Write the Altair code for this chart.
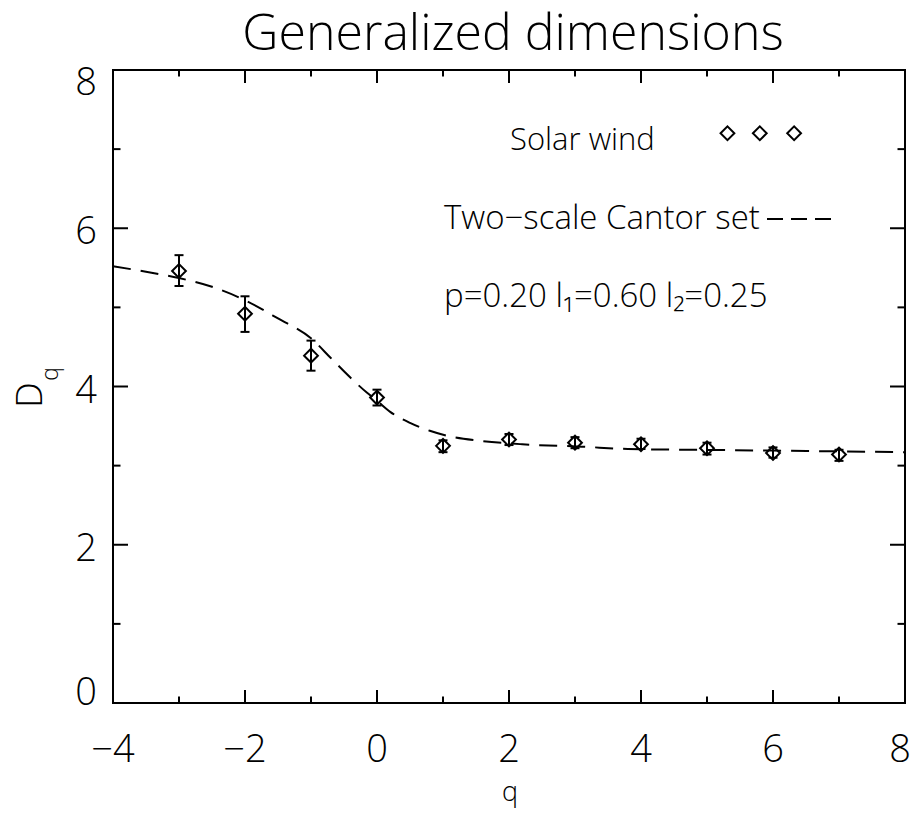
import altair as alt
import pandas as pd

# Observed generalized dimensions (solar wind) with error bars
q_obs = [-3, -2, -1, 0, 1, 2, 3, 4, 5, 6, 7]
d_obs = [5.46, 4.92, 4.39, 3.86, 3.25, 3.33, 3.29, 3.27, 3.22, 3.16, 3.14]
d_lo = [5.27, 4.69, 4.20, 3.76, 3.17, 3.26, 3.22, 3.21, 3.14, 3.10, 3.06]
d_hi = [5.66, 5.14, 4.58, 3.96, 3.32, 3.40, 3.36, 3.34, 3.29, 3.23, 3.20]

# Two-scale Cantor set curve
q_fit = [-4, -3.5, -3, -2.5, -2, -1.5, -1, -0.7, -0.4, -0.15, 0, 0.2, 0.5, 0.8,
         1.1, 1.6, 2.2, 3.1, 3.8, 4.8, 6, 7, 8]
d_fit = [5.52, 5.45, 5.37, 5.26, 5.09, 4.86, 4.61, 4.36, 4.11, 3.92, 3.82, 3.68,
         3.54, 3.44, 3.37, 3.31, 3.27, 3.24, 3.21, 3.20, 3.19, 3.18, 3.17]

# legend symbol positions (in data units)
leg_q = [5.31, 5.80, 6.32]
leg_d = [7.20, 7.20, 7.20]

x_major = [-4, -2, 0, 2, 4, 6, 8]
x_major_labels = ["\u22124", "\u22122", "0", "2", "4", "6", "8"]
x_minor = [-3, -1, 1, 3, 5, 7]
y_major = [0, 2, 4, 6, 8]
y_major_labels = ["0", "2", "4", "6", "8"]
y_minor = [1, 3, 5, 7]

title_text = "Generalized dimensions"
x_title = "q"
y_title_main = "D"
y_title_sub = "q"
legend_lines = ["Solar wind", "Two\u2212scale Cantor set",
                "p=0.20 l\u2081=0.60 l\u2082=0.25"]

W, H = 792, 633
FONT = "Open Sans"
FW = 300
PX = 8.0 / H  # data units per pixel (y)
PXX = 12.0 / W  # data units per pixel (x)

xs = alt.Scale(domain=[-4, 8], nice=False, zero=False)
ys = alt.Scale(domain=[0, 8], nice=False, zero=False)

obs = pd.DataFrame({"q": q_obs, "d": d_obs, "lo": d_lo, "hi": d_hi})
fit = pd.DataFrame({"q": q_fit, "d": d_fit})
leg = pd.DataFrame({"q": leg_q, "d": leg_d})

X = lambda f: alt.X(f, type="quantitative", scale=xs, axis=None)
Y = lambda f: alt.Y(f, type="quantitative", scale=ys, axis=None)

line = alt.Chart(fit).mark_line(color="black", strokeWidth=2, strokeDash=[18, 10],
                                interpolate="monotone").encode(x=X("q"), y=Y("d"))
err = alt.Chart(obs).mark_rule(color="black", strokeWidth=2).encode(
    x=X("q"), y=Y("lo"), y2="hi")
cap_lo = alt.Chart(obs).mark_tick(color="black", orient="horizontal", size=9,
                                  thickness=2, opacity=1).encode(x=X("q"), y=Y("lo"))
cap_hi = alt.Chart(obs).mark_tick(color="black", orient="horizontal", size=9,
                                  thickness=2, opacity=1).encode(x=X("q"), y=Y("hi"))
pts = alt.Chart(obs).mark_point(shape="diamond", size=190, color="black", opacity=1,
                                strokeWidth=2, filled=False).encode(x=X("q"), y=Y("d"))
legpts = alt.Chart(leg).mark_point(shape="diamond", size=190, color="black", opacity=1,
                                   strokeWidth=2, filled=False).encode(x=X("q"), y=Y("d"))
# legend sample of the dashed line
legline = alt.Chart(pd.DataFrame({"a": [0]})).mark_rule(
    color="black", strokeWidth=2, strokeDash=[16, 8]).encode(
    x=alt.value(654), x2=alt.value(722), y=alt.value(149))


def ticks_x(vals, length, top):
    df = pd.DataFrame({"t": vals})
    base = 8.0 if top else 0.0
    end = base - length * PX if top else base + length * PX
    return alt.Chart(df).mark_rule(color="black", strokeWidth=2).encode(
        x=X("t"), y=alt.Y(datum=base, scale=ys, axis=None), y2=alt.Y2(datum=end))


def ticks_y(vals, length, right):
    df = pd.DataFrame({"t": vals})
    base = 8.0 if right else -4.0
    end = base - length * PXX if right else base + length * PXX
    return alt.Chart(df).mark_rule(color="black", strokeWidth=2).encode(
        y=Y("t"), x=alt.X(datum=base, scale=xs, axis=None), x2=alt.X2(datum=end))


tick_layers = [
    ticks_x(x_major, 13, False), ticks_x(x_minor, 6.5, False),
    ticks_x(x_major, 13, True), ticks_x(x_minor, 6.5, True),
    ticks_y(y_major, 15, False), ticks_y(y_minor, 7.5, False),
    ticks_y(y_major, 15, True), ticks_y(y_minor, 7.5, True),
]

# tick labels (text marks positioned through the scales)
xl = pd.DataFrame({"v": x_major, "t": x_major_labels})
yl = pd.DataFrame({"v": y_major, "t": y_major_labels})
TL = 38


def xlab(df, dx):
    return alt.Chart(df).mark_text(font=FONT, fontWeight=FW, fontSize=TL, color="black",
                                   align="center", baseline="alphabetic", dy=59, dx=dx).encode(
        x=X("v"), y=alt.Y(datum=0, scale=ys, axis=None), text="t:N")


def ylab(df, dy):
    return alt.Chart(df).mark_text(font=FONT, fontWeight=FW, fontSize=TL, color="black",
                                   align="right", baseline="alphabetic", dx=-16, dy=dy).encode(
        y=Y("v"), x=alt.X(datum=-4, scale=xs, axis=None), text="t:N")


label_layers = [
    xlab(xl[xl.v < 8], 0), xlab(xl[xl.v == 8], -5),
    ylab(yl[(yl.v > 0) & (yl.v < 8)], 16), ylab(yl[yl.v == 8], 25), ylab(yl[yl.v == 0], 2),
]

one = pd.DataFrame({"a": [0]})


def label(text, x, y, size, align="left", baseline="alphabetic", angle=0):
    kw = dict(text=text, fontSize=size, font=FONT, fontWeight=FW, color="black",
              align=align, baseline=baseline)
    if angle:
        kw["angle"] = angle
    return alt.Chart(one).mark_text(**kw).encode(x=alt.value(x), y=alt.value(y))


texts = [
    label(title_text, W / 2 + 4, -20, 50, align="center"),
    label(x_title, W / 2 + 1, 731, 27, align="center"),
    label(y_title_main, -82, 325, 36, align="center", baseline="middle", angle=270),
    label(y_title_sub, -62, 304, 23, align="center", baseline="middle", angle=270),
    label(legend_lines[0], 397, 80, 31),
    label(legend_lines[1], 331, 159, 33),
    label(legend_lines[2], 331, 237, 33),
]

chart = alt.layer(line, err, cap_lo, cap_hi, pts, legpts, legline, *tick_layers,
                  *label_layers, *texts).properties(
    width=W, height=H,
    autosize=alt.AutoSizeParams(type="none"),
    padding={"left": 105, "top": 62, "right": 7, "bottom": 106},
    background="white",
).configure_view(stroke="black", strokeWidth=2)

chart.save("out.html", embed_options={"renderer": "svg", "actions": False})
